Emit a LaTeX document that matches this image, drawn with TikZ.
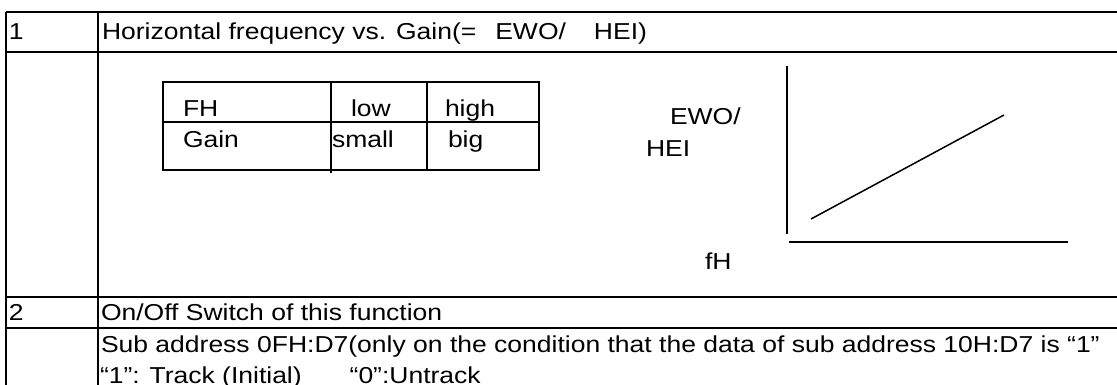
\documentclass[tikz,border=0pt]{standalone}
\usepackage{graphicx}
\usepackage{fontspec}
\setmainfont{Liberation Sans}
\newcommand\sq[1]{\scalebox{1}[0.87]{#1}}
\tikzset{
  txt/.style={anchor=base west, inner sep=0pt, outer sep=0pt, font=\fontsize{26.5}{30}\selectfont},
  outerline/.style={line width=2.2pt},
  innerline/.style={line width=1.8pt},
  graphline/.style={line width=1.5pt}
}
\begin{document}
\begin{tikzpicture}[x=1pt,y=-1pt]
\useasboundingbox (0,0) rectangle (1117,385);
% outer table
\draw[outerline] (6,12) -- (1117,12);
\draw[outerline] (6,52) -- (1117,52);
\draw[outerline] (6,297) -- (1117,297);
\draw[outerline] (6,328) -- (1117,328);
\draw[outerline] (6,12) -- (6,385);
\draw[outerline] (98,12) -- (98,385);
% inner table
\draw[innerline] (163,82) rectangle (539,170);
\draw[innerline] (163,122) -- (539,122);
\draw[innerline] (331,82) -- (331,173);
\draw[innerline] (427,82) -- (427,170);
% graph
\coordinate (ytop) at (787,66);
\coordinate (ybot) at (787,234);
\coordinate (xl) at (789,242);
\coordinate (xr) at (1068,242);
\coordinate (ls) at (811,219);
\coordinate (le) at (1004,115);
\draw[graphline] (ytop) -- (ybot);
\draw[graphline] (xl) -- (xr);
\draw[graphline] (ls) -- (le);
% texts
\node[txt] (n1) at (9,39.5) {\sq{1}};
\node[txt] (h1) at (102,39.5) {\sq{Horizontal frequency vs. Gain(=\hspace{19pt}EWO/\hspace{28pt}HEI)}};
\node[txt] (tFH) at (183,117) {\sq{FH}};
\node[txt] (tlow) at (351,117) {\sq{low}};
\node[txt] (thigh) at (445,117) {\sq{high}};
\node[txt] (tGain) at (183,148) {\sq{Gain}};
\node[txt] (tsmall) at (332,148) {\sq{small}};
\node[txt] (tbig) at (448,148) {\sq{big}};
\node[txt] (lEWO) at (670,125) {\sq{EWO/}};
\node[txt] (lHEI) at (646,157) {\sq{HEI}};
\node[txt] (lfH) at (705,269) {\sq{fH}};
\node[txt] (n2) at (9,320) {\sq{2}};
\node[txt] (h2) at (101,320) {\sq{On/Off Switch of this function}};
\node[txt] (s1) at (101,352) {\sq{Sub address 0FH:D7(only on the condition that the data of sub address 10H:D7 is “1”}};
\node[txt] (s2) at (100,383) {\sq{“1”: Track (Initial)\hspace{48pt}“0”:Untrack}};
\end{tikzpicture}
\end{document}
